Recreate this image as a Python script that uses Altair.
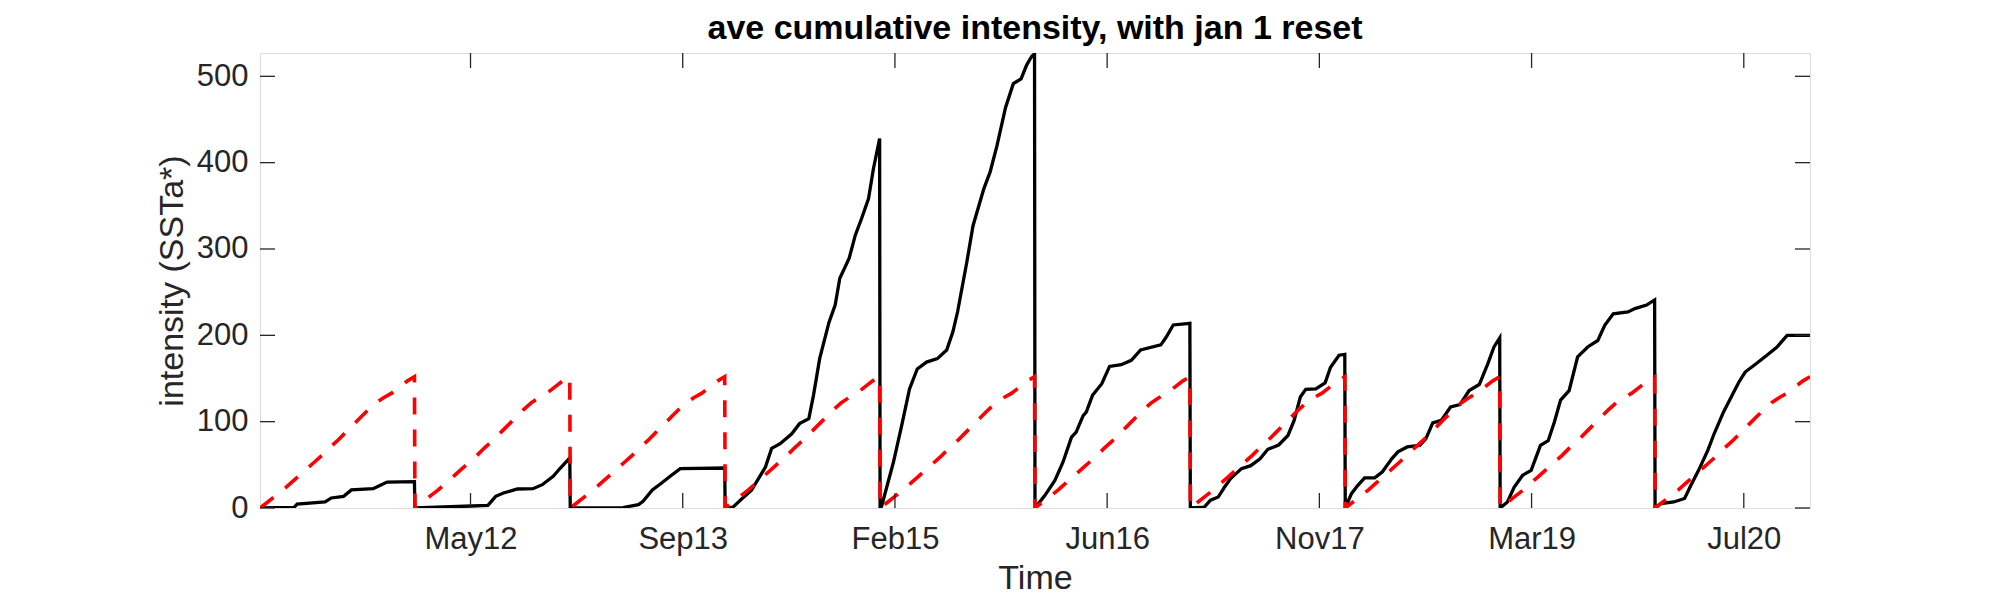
import altair as alt
import pandas as pd

# ---- data (fraction of year, cumulative intensity) ----
obs_2011 = [(0, 0), (0.22, 0.8), (0.24, 4.6), (0.42, 7), (0.46, 11.6), (0.54, 13.5), (0.59, 21),
            (0.73, 22.4), (0.76, 25), (0.82, 30), (0.997, 30.5)]
obs_2012 = [(0, 0), (0.32, 2), (0.47, 3), (0.52, 13.5), (0.57, 17.4), (0.66, 22), (0.76, 22.4),
            (0.82, 27), (0.89, 36.7), (0.935, 46), (0.997, 58)]
obs_2013 = [(0, 0), (0.34, 0.5), (0.44, 3.9), (0.47, 7.7), (0.53, 21), (0.59, 29), (0.645, 36.7),
            (0.71, 45.6), (0.997, 46.3)]
obs_2014 = [(0, 0), (0.05, 1), (0.11, 11), (0.17, 20.5), (0.215, 34), (0.26, 47.5), (0.30, 69),
            (0.355, 74.5), (0.43, 86), (0.48, 97.7), (0.54, 103.5), (0.57, 130.5), (0.61, 173),
            (0.67, 215), (0.71, 235), (0.74, 266), (0.80, 289), (0.84, 316), (0.88, 335),
            (0.925, 358), (0.957, 393), (0.997, 428)]
obs_2015 = [(0, 0), (0.01, 2), (0.086, 53), (0.14, 96), (0.19, 138), (0.24, 161), (0.30, 169),
            (0.37, 173), (0.43, 183), (0.47, 204), (0.50, 227), (0.56, 285), (0.60, 327),
            (0.67, 370), (0.71, 389), (0.755, 420), (0.81, 464), (0.86, 491.5), (0.91, 497),
            (0.946, 513), (0.978, 523), (0.997, 526)]
obs_2016 = [(0, 0), (0.064, 14.7), (0.128, 32), (0.18, 53), (0.235, 82), (0.265, 88), (0.31, 107),
            (0.33, 111), (0.37, 130.5), (0.43, 144), (0.48, 164), (0.555, 166), (0.62, 171),
            (0.68, 183), (0.81, 189), (0.845, 198), (0.89, 212), (0.997, 214)]
obs_2017 = [(0, 0), (0.09, 1), (0.13, 9), (0.18, 12.7), (0.22, 24), (0.26, 34), (0.33, 45.6),
            (0.39, 49), (0.45, 57), (0.50, 68), (0.57, 73), (0.63, 84), (0.67, 101.5), (0.71, 128.5),
            (0.745, 137.5), (0.81, 138), (0.87, 145), (0.905, 163), (0.96, 177), (0.997, 178)]
obs_2018 = [(0, 0), (0.04, 16.6), (0.08, 26), (0.125, 35), (0.19, 35), (0.24, 42), (0.30, 57),
            (0.34, 65), (0.40, 70.7), (0.48, 72.6), (0.52, 80), (0.565, 98.5), (0.62, 101.5),
            (0.68, 117), (0.74, 119.7), (0.80, 136), (0.865, 143), (0.92, 167), (0.96, 186.5),
            (0.997, 197)]
obs_2019 = [(0, 0), (0.047, 7), (0.09, 24), (0.145, 38), (0.2, 43.6), (0.26, 72.6), (0.31, 78),
            (0.35, 99.6), (0.39, 125), (0.445, 136), (0.50, 175), (0.565, 186.5), (0.63, 194),
            (0.675, 211.6), (0.73, 225), (0.825, 227), (0.87, 231), (0.945, 235), (0.997, 241)]
obs_2020 = [(0, 0), (0.037, 5), (0.12, 7), (0.19, 11), (0.23, 26), (0.28, 43.6), (0.34, 67),
            (0.38, 86), (0.44, 111), (0.50, 132), (0.54, 146), (0.58, 157.5), (0.65, 167),
            (0.72, 177), (0.785, 186.5), (0.85, 200), (0.997, 200)]

# climatological cumulative intensity (same every year), red dashed
clim = [(0, 0), (0.05, 7), (0.10, 14), (0.15, 21), (0.20, 29), (0.25, 37), (0.30, 45), (0.35, 53),
        (0.40, 61), (0.45, 70), (0.50, 78), (0.55, 87), (0.60, 96), (0.65, 105), (0.70, 114),
        (0.75, 122), (0.80, 128), (0.85, 133), (0.90, 140), (0.95, 147), (0.997, 152)]

obs_by_year = {2011: obs_2011, 2012: obs_2012, 2013: obs_2013, 2014: obs_2014, 2015: obs_2015,
               2016: obs_2016, 2017: obs_2017, 2018: obs_2018, 2019: obs_2019, 2020: obs_2020}

x_tick_dates = ["2012-05-11", "2013-09-23", "2015-02-05", "2016-06-19",
                "2017-11-01", "2019-03-16", "2020-07-28"]
y_tick_values = [0, 100, 200, 300, 400, 500]
x_start, x_end = "2011-01-01", "2020-12-31"
y_max = 527

TITLE = "ave cumulative intensity, with jan 1 reset"
XLABEL = "Time"
YLABEL = "intensity (SSTa*)"


def ms(ts):
    return int(pd.Timestamp(ts).value // 1_000_000)


def to_rows(year, pts):
    start = pd.Timestamp(year=year, month=1, day=1)
    ndays = (pd.Timestamp(year=year + 1, month=1, day=1) - start).days
    rows = []
    for f, v in pts:
        t = start + pd.to_timedelta(f * ndays, unit="D")
        rows.append({"t": ms(t), "v": v})
    return rows


obs_rows, clim_rows = [], []
for yr, pts in obs_by_year.items():
    obs_rows += to_rows(yr, pts)
    clim_rows += to_rows(yr, clim)

obs_df = pd.DataFrame(obs_rows)
clim_df = pd.DataFrame(clim_rows)
xt_df = pd.DataFrame({"t": [ms(d) for d in x_tick_dates]})
yt_df = pd.DataFrame({"v": y_tick_values})

W, H = 1550, 455
FONT = "Liberation Sans"
AX = "#262626"
TL = 15

xscale = alt.Scale(type="utc", domain=[ms(x_start), ms(x_end)], nice=False)
yscale = alt.Scale(domain=[0, y_max], nice=False)

xaxis = alt.Axis(values=[ms(d) for d in x_tick_dates], format="%b%y", title=XLABEL,
                 ticks=False, tickSize=0, domain=False, grid=False, labelPadding=16,
                 labelFontSize=31, titleFontSize=34, titleFontWeight="normal",
                 labelColor=AX, titleColor=AX, labelFont=FONT, titleFont=FONT, titlePadding=7)
yaxis = alt.Axis(values=y_tick_values, title=YLABEL, ticks=False, tickSize=0, domain=False,
                 grid=False, labelPadding=12, labelFontSize=31, titleFontSize=34,
                 titleFontWeight="normal", labelColor=AX, titleColor=AX, labelFont=FONT,
                 titleFont=FONT, titlePadding=7)

X = alt.X("t:T", scale=xscale, axis=xaxis)
Y = alt.Y("v:Q", scale=yscale, axis=yaxis)

obs_line = alt.Chart(obs_df).mark_line(color="#000000", strokeWidth=3.3, clip=True).encode(x=X, y=Y)
clim_line = alt.Chart(clim_df).mark_line(color="#FF0000", strokeWidth=3.6, strokeDash=[17, 15],
                                         clip=True).encode(x=X, y=Y)

xt_bottom = alt.Chart(xt_df).mark_rule(color=AX, strokeWidth=1.3).encode(
    x=X, y=alt.value(H), y2=alt.value(H - TL))
xt_top = alt.Chart(xt_df).mark_rule(color=AX, strokeWidth=1.3).encode(
    x=X, y=alt.value(0), y2=alt.value(TL))
yt_left = alt.Chart(yt_df).mark_rule(color=AX, strokeWidth=1.3).encode(
    y=Y, x=alt.value(0), x2=alt.value(TL))
yt_right = alt.Chart(yt_df).mark_rule(color=AX, strokeWidth=1.3).encode(
    y=Y, x=alt.value(W), x2=alt.value(W - TL))

chart = alt.layer(obs_line, clim_line, xt_bottom, xt_top, yt_left, yt_right).properties(
    width=W, height=H,
    title=alt.TitleParams(TITLE, fontSize=34, fontWeight="bold", font=FONT, color="#000000",
                          anchor="middle", offset=6),
    padding={"left": 252, "top": 45, "right": 170, "bottom": 90},
    autosize=alt.AutoSizeParams(type="none"),
).configure_view(stroke=AX, strokeWidth=1.6).configure(background="white")

chart.save("out.html", embed_options={"renderer": "svg", "actions": False})
